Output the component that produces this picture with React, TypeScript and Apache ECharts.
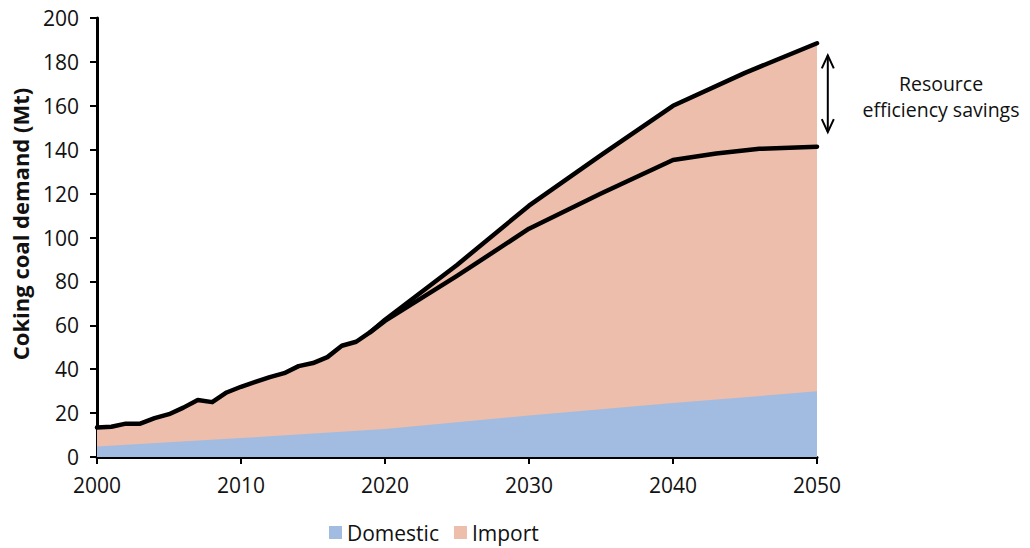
import React, { useEffect, useRef } from "react";
import * as echarts from "echarts";

const xTicks = [2000, 2010, 2020, 2030, 2040, 2050];
const yTicks = [0, 20, 40, 60, 80, 100, 120, 140, 160, 180, 200];

const totalYears = [2000, 2001, 2002, 2003, 2004, 2005, 2006, 2007, 2008, 2009, 2010, 2011, 2012, 2013, 2014, 2015, 2016, 2017, 2018, 2019, 2020, 2025, 2030, 2035, 2040, 2045, 2050];
const totalValues = [13.4, 13.8, 15.2, 15.2, 17.7, 19.5, 22.5, 26, 25, 29.4, 32, 34.2, 36.4, 38.2, 41.4, 42.8, 45.5, 50.7, 52.5, 57, 62.5, 87.5, 114.5, 137.5, 160, 175, 188.5];

const efficiencyYears = [2019, 2020, 2025, 2030, 2035, 2040, 2043, 2046, 2050];
const efficiencyValues = [57, 62, 82.5, 104, 120, 135.3, 138.3, 140.4, 141.4];

const domesticYears = [2000, 2010, 2020, 2030, 2040, 2050];
const domesticValues = [4.8, 8.6, 12.8, 18.9, 24.6, 29.9];

const savingsRange = [183, 148];
const arrowYear = 2050.75;
const annotationLines = ["Resource", "efficiency savings"];

const BLUE = "#a1bce0";
const PINK = "#ecbeab";
const FONT = "'Open Sans', 'Noto Sans', sans-serif";

const zip = (xs: number[], ys: number[]) => xs.map((x, i) => [x, ys[i]]);

export default function App() {
  const ref = useRef<HTMLDivElement>(null);
  useEffect(() => {
    if (!ref.current) return;
    const chart = echarts.init(ref.current, undefined, { renderer: "svg" });
    chart.setOption({
      animation: false,
      textStyle: { fontFamily: FONT },
      grid: { left: 97, right: 213, top: 18, bottom: 91 },
      legend: {
        top: 517,
        left: 324,
        icon: "rect",
        itemWidth: 13,
        itemHeight: 13,
        itemGap: 15,
        textStyle: { fontSize: 21, color: "#111", fontFamily: FONT },
        data: [
          { name: "Domestic", itemStyle: { color: BLUE, borderWidth: 0 } },
          { name: "Import", itemStyle: { color: PINK, borderWidth: 0 } },
        ],
      },
      xAxis: {
        type: "value",
        min: xTicks[0],
        max: xTicks[xTicks.length - 1],
        interval: 10,
        splitLine: { show: false },
        axisLine: { show: true, lineStyle: { color: "#000", width: 3 } },
        axisTick: { show: true, length: 7, lineStyle: { color: "#000", width: 2 } },
        axisLabel: { fontSize: 21, color: "#111", margin: 17, formatter: (v: number) => String(v) },
      },
      yAxis: {
        type: "value",
        min: yTicks[0],
        max: yTicks[yTicks.length - 1],
        interval: 20,
        splitLine: { show: false },
        axisLine: { show: true, lineStyle: { color: "#000", width: 3 } },
        axisTick: { show: true, length: 7, lineStyle: { color: "#000", width: 2 } },
        axisLabel: { fontSize: 21, color: "#111", margin: 18 },
      },
      series: [
        {
          name: "Import",
          type: "line",
          data: zip(totalYears, totalValues),
          symbol: "none",
          z: 2,
          itemStyle: { color: PINK },
          lineStyle: { color: "#000", width: 4.5, join: "round", cap: "round" },
          areaStyle: { color: PINK, opacity: 1 },
        },
        {
          name: "Domestic",
          type: "line",
          data: zip(domesticYears, domesticValues),
          symbol: "none",
          z: 3,
          itemStyle: { color: BLUE },
          lineStyle: { width: 0 },
          areaStyle: { color: BLUE, opacity: 1 },
        },
        {
          name: "Resource efficiency",
          type: "line",
          data: zip(efficiencyYears, efficiencyValues),
          symbol: "none",
          z: 4,
          lineStyle: { color: "#000", width: 4.5, join: "round", cap: "round" },
        },
      ],
    });
    const top = chart.convertToPixel({ gridIndex: 0 }, [arrowYear, savingsRange[0]]);
    const bot = chart.convertToPixel({ gridIndex: 0 }, [arrowYear, savingsRange[1]]);
    const ax = top[0];
    const hw = 6;
    const hh = 13;
    chart.setOption({
      graphic: [
        { type: "line", shape: { x1: ax, y1: top[1], x2: ax, y2: bot[1] }, style: { stroke: "#000", lineWidth: 2 } },
        { type: "polyline", shape: { points: [[ax - hw, top[1] + hh], [ax, top[1]], [ax + hw, top[1] + hh]] }, style: { stroke: "#000", lineWidth: 2, fill: "none" } },
        { type: "polyline", shape: { points: [[ax - hw, bot[1] - hh], [ax, bot[1]], [ax + hw, bot[1] - hh]] }, style: { stroke: "#000", lineWidth: 2, fill: "none" } },
        {
          type: "text",
          x: 941,
          y: 83,
          style: { text: annotationLines[0], fontSize: 19.5, fill: "#111", fontFamily: FONT, align: "center", verticalAlign: "middle" },
        },
        {
          type: "text",
          x: 941,
          y: 109,
          style: { text: annotationLines[1], fontSize: 19.5, fill: "#111", fontFamily: FONT, align: "center", verticalAlign: "middle" },
        },
        {
          type: "text",
          x: 20,
          y: 224,
          rotation: Math.PI / 2,
          style: { text: "Coking coal demand (Mt)", fontSize: 22, fontWeight: "bold", fill: "#111", fontFamily: FONT, align: "center", verticalAlign: "middle" },
        },
      ],
    });
    return () => chart.dispose();
  }, []);
  return <div ref={ref} style={{ width: 1030, height: 548, position: "absolute", left: 0, top: 0 }} />;
}
